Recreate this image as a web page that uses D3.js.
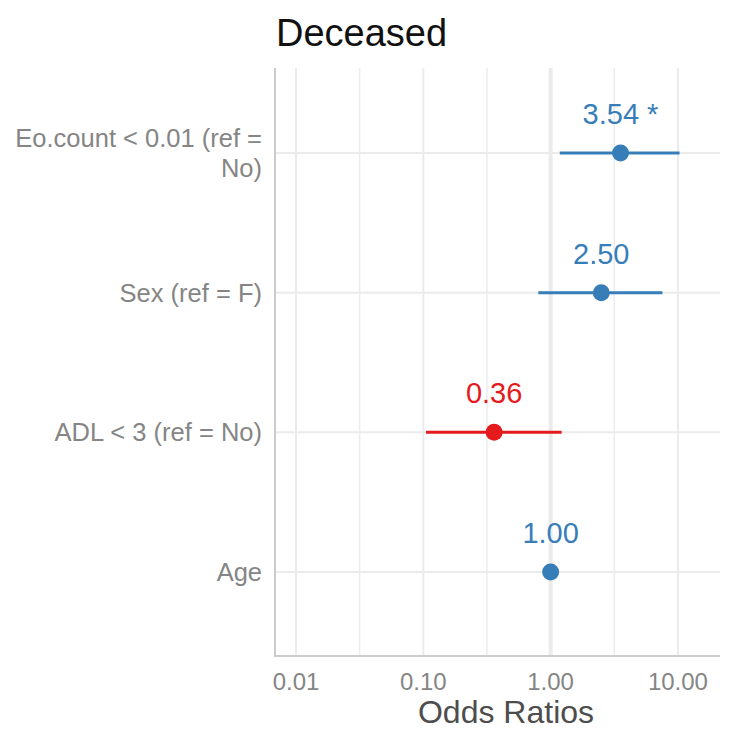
<!DOCTYPE html>
<html>
<head>
<meta charset="utf-8">
<script src="https://cdn.jsdelivr.net/npm/d3@7"></script>
<style>
body { margin: 0; background: #fff; }
text { font-family: "Liberation Sans", Arial, sans-serif; }
</style>
</head>
<body>
<script>
var terms = ["Eo.count < 0.01 (ref = No)", "Sex (ref = F)", "ADL < 3 (ref = No)", "Age"];
var termLines = [["Eo.count < 0.01 (ref =", "No)"], ["Sex (ref = F)"], ["ADL < 3 (ref = No)"], ["Age"]];
var estimates = [3.54, 2.50, 0.36, 1.00];
var ciLow = [1.18, 0.80, 0.105, 0.97];
var ciHigh = [10.3, 7.55, 1.22, 1.03];
var valueLabels = ["3.54 *", "2.50", "0.36", "1.00"];
var xTicks = [0.01, 0.1, 1, 10];
var xMinor = [0.0316, 0.316, 3.16];

var width = 732, height = 730;
var margin = {top: 68, right: 12, bottom: 74, left: 275};

var svg = d3.select("body").append("svg").attr("width", width).attr("height", height);

var x = d3.scaleLog().domain([0.00684, 21.4]).range([margin.left, width - margin.right]);
var y = d3.scalePoint().domain(terms).range([153, 572]);

// grid
svg.selectAll("line.minor").data(xMinor).enter().append("line")
   .attr("class", "minor")
   .attr("x1", function(d){ return x(d); }).attr("x2", function(d){ return x(d); })
   .attr("y1", margin.top).attr("y2", height - margin.bottom)
   .attr("stroke", "#ececec").attr("stroke-width", 1.5);
svg.selectAll("line.major").data(xTicks).enter().append("line")
   .attr("class", "major")
   .attr("x1", function(d){ return x(d); }).attr("x2", function(d){ return x(d); })
   .attr("y1", margin.top).attr("y2", height - margin.bottom)
   .attr("stroke", "#ebebeb").attr("stroke-width", function(d){ return d === 1 ? 4 : 2; });
svg.selectAll("line.hgrid").data(terms).enter().append("line")
   .attr("class", "hgrid")
   .attr("x1", margin.left).attr("x2", width - margin.right)
   .attr("y1", function(d){ return y(d); }).attr("y2", function(d){ return y(d); })
   .attr("stroke", "#ebebeb").attr("stroke-width", 2);

// axis lines
svg.append("line").attr("x1", margin.left).attr("x2", margin.left)
   .attr("y1", margin.top).attr("y2", height - margin.bottom + 1)
   .attr("stroke", "#cccccc").attr("stroke-width", 2);
svg.append("line").attr("x1", margin.left - 1).attr("x2", width - margin.right)
   .attr("y1", height - margin.bottom).attr("y2", height - margin.bottom)
   .attr("stroke", "#cccccc").attr("stroke-width", 2);

// x tick labels
var fmt = d3.format(".2f");
svg.selectAll("text.xt").data(xTicks).enter().append("text")
   .attr("class", "xt")
   .attr("x", function(d){ return x(d); }).attr("y", 690)
   .attr("text-anchor", "middle").attr("font-size", 24).attr("fill", "#858585")
   .text(function(d){ return fmt(d); });

// y labels (one text per line)
terms.forEach(function(t, i) {
  var lines = termLines[i];
  lines.forEach(function(l, j) {
    svg.append("text").attr("text-anchor", "end").attr("font-size", 25.5).attr("fill", "#858585")
      .attr("x", 262)
      .attr("y", y(t) + 9 + (j - (lines.length - 1) / 2) * 29.5)
      .text(l);
  });
});

var color = function(d){ return d < 1 ? "#e41a1c" : "#377eb8"; };

// CI lines
svg.selectAll("line.ci").data(terms).enter().append("line")
   .attr("class", "ci")
   .attr("x1", function(d, i){ return x(ciLow[i]); }).attr("x2", function(d, i){ return x(ciHigh[i]); })
   .attr("y1", function(d){ return y(d); }).attr("y2", function(d){ return y(d); })
   .attr("stroke", function(d, i){ return color(estimates[i]); }).attr("stroke-width", 3);

// points
svg.selectAll("circle.pt").data(terms).enter().append("circle")
   .attr("class", "pt")
   .attr("cx", function(d, i){ return x(estimates[i]); })
   .attr("cy", function(d){ return y(d); })
   .attr("r", 8.5)
   .attr("fill", function(d, i){ return color(estimates[i]); });

// value labels
svg.selectAll("text.val").data(terms).enter().append("text")
   .attr("class", "val")
   .attr("x", function(d, i){ return x(estimates[i]); })
   .attr("y", function(d){ return y(d) - 29; })
   .attr("text-anchor", "middle").attr("font-size", 29)
   .attr("fill", function(d, i){ return color(estimates[i]); })
   .text(function(d, i){ return valueLabels[i]; });

// title
svg.append("text").attr("x", 276).attr("y", 46).attr("font-size", 38).attr("fill", "#111")
   .text("Deceased");

// axis title
svg.append("text").attr("x", 506).attr("y", 723)
   .attr("text-anchor", "middle").attr("font-size", 32).attr("fill", "#4d4d4d")
   .text("Odds Ratios");
</script>
</body>
</html>
